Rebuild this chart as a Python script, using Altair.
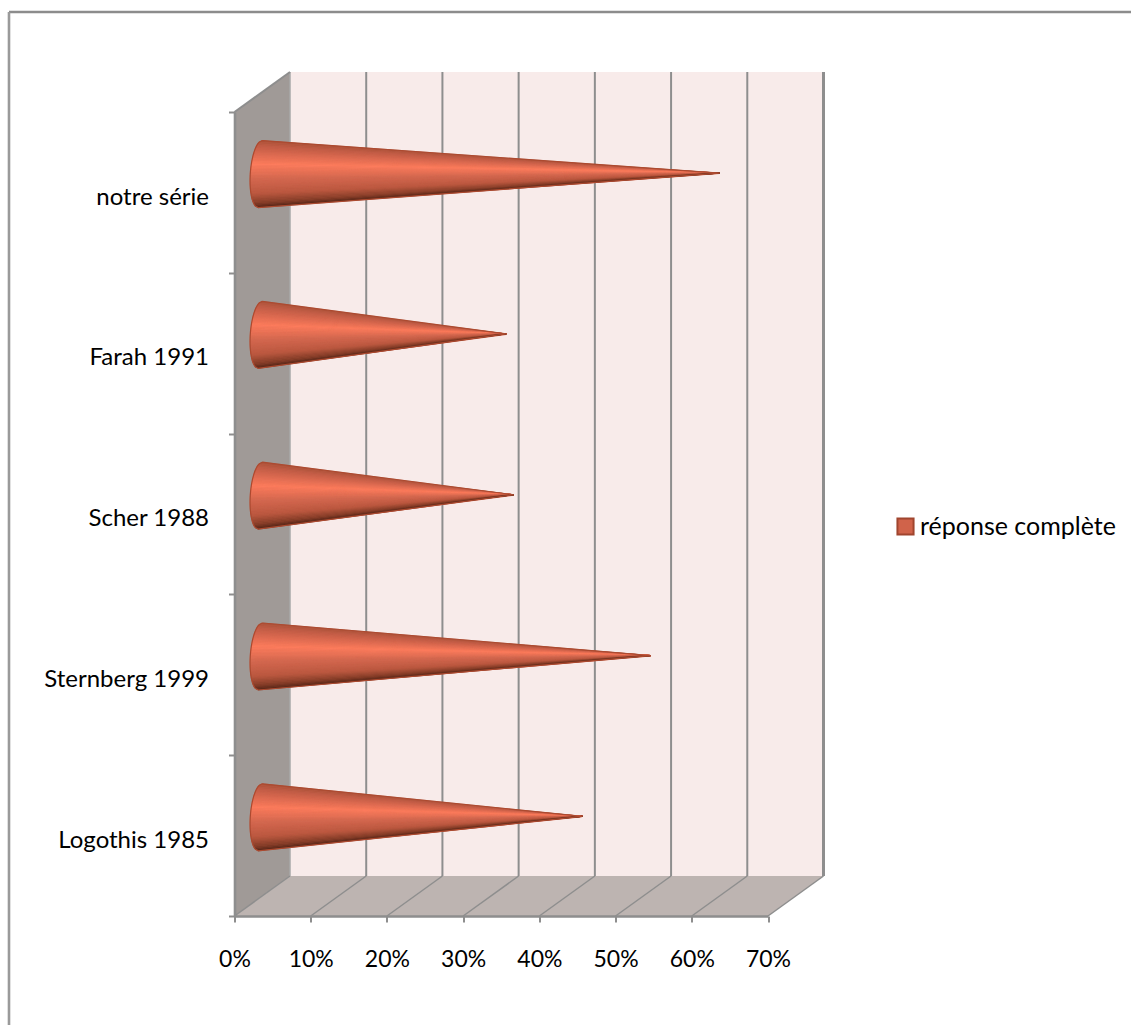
import altair as alt
import numpy as np
import pandas as pd

# Study labels and complete-response rates (%), top to bottom
studies = ["notre série", "Farah 1991", "Scher 1988", "Sternberg 1999", "Logothis 1985"]
rates = [60, 32, 33, 51, 42]
series_name = "réponse complète"
x_ticks = [0, 10, 20, 30, 40, 50, 60, 70]
band_ticks = [0, 1, 2, 3, 4, 5]

# Plot frame in pixels
PLOT_W, PLOT_H = 533.5, 804
LEFT, TOP = 234.5, 112
PX_PER_PCT = PLOT_W / 70
PX_PER_BAND = PLOT_H / 5

# Depth of the pseudo-3D box, in data units
DEPTH_X = 55.5 / PX_PER_PCT
DEPTH_Y = 40 / PX_PER_BAND
MID_X = DEPTH_X / 2
MID_Y = 18.3 / PX_PER_BAND
CONE_R = 33.5 / PX_PER_BAND

GRID = "#8e8e8e"
FONT = "Lato"

SHADE_POS = [-1.0, -0.85, -0.3, 0.15, 0.6, 0.88, 1.0]
SHADE_RGB = [(172, 82, 58), (192, 92, 70), (253, 124, 93), (212, 104, 80),
             (186, 88, 64), (130, 60, 40), (85, 38, 24)]


def shade(t):
    rgb = [np.interp(t, SHADE_POS, [c[i] for c in SHADE_RGB]) for i in range(3)]
    return "#%02x%02x%02x" % tuple(int(round(v)) for v in rgb)


def base_x(t):
    # Left rim of the cone: a slightly tilted half ellipse
    return MID_X + (-2 * t - 2 - 10 * np.sqrt(max(0.0, 1 - t * t))) / PX_PER_PCT


strips, silhouette, outline = [], [], []
N_STRIPS = 44
for k, (study, rate) in enumerate(zip(studies, rates)):
    cy = k + 0.5 - MID_Y
    tip = rate + MID_X
    edges = np.linspace(-1, 1, N_STRIPS + 1)

    # One thin sector per shade, running from the rim to the tip
    for i in range(N_STRIPS):
        a, b = edges[i], edges[i + 1]
        ax, ay = base_x(a), cy + a * CONE_R
        bx, by = base_x(b), cy + b * CONE_R
        mid = (a + b) / 2
        lo, hi = (ax, ay), (bx, by)
        if ax > bx:
            lo, hi = hi, lo
        other = (hi[0] - lo[0]) / (tip - lo[0]) if tip != lo[0] else 0
        edge_y = lo[1] + (cy - 0.006 - lo[1]) * other
        ys = sorted([hi[1], edge_y])
        for x, y0, y1 in [(lo[0], lo[1], lo[1]), (hi[0], ys[0], ys[1]), (tip, cy - 0.006, cy - 0.006)]:
            strips.append(dict(study=study, strip=i, x=x, y=y0, y2=y1, shade=shade(mid)))

    # Whole cone outline, used for the underlying fill and the rim stroke
    ts = np.linspace(-1, 1, 41)
    rim = [(base_x(t), cy + t * CONE_R) for t in ts]
    rim_top = sorted(rim[:21])
    rim_bot = sorted(rim[20:])
    xs = sorted({p[0] for p in rim} | {tip})
    top_x = [p[0] for p in rim_top] + [tip]
    top_y = [p[1] for p in rim_top] + [cy]
    bot_x = [p[0] for p in rim_bot] + [tip]
    bot_y = [p[1] for p in rim_bot] + [cy]
    for x in xs:
        silhouette.append(dict(study=study, x=x, y=float(np.interp(x, top_x, top_y)),
                               y2=float(np.interp(x, bot_x, bot_y)), series=series_name))
    path = rim + [(tip, cy - 0.006), rim[0]]
    for j, (x, y) in enumerate(path):
        outline.append(dict(study=study, o=j, x=x, y=y))

strips = pd.DataFrame(strips)
silhouette = pd.DataFrame(silhouette)
outline = pd.DataFrame(outline)

x_scale = alt.Scale(domain=[0, 70], nice=False, zero=False)
y_scale = alt.Scale(domain=[0, 5], reverse=True, nice=False, zero=False)

# Real axes on the front edges of the box; every layer shares them
labels_js = "[" + ",".join(f"'{s}'" for s in studies) + ",''][datum.value]"
x_axis = alt.Axis(
    values=x_ticks, labelExpr="datum.value + '%'", title=None, grid=False, zindex=1,
    domainColor=GRID, domainWidth=2.6, tickColor=GRID, tickWidth=2, tickSize=6,
    labelFontSize=23, labelPadding=26, labelFont=FONT, labelColor="#000000",
    labelFlush=False, labelOverlap=False)
y_axis = alt.Axis(
    values=band_ticks, labelExpr=labels_js, title=None, grid=False, zindex=1,
    domainColor=GRID, domainWidth=2.6, tickColor=GRID, tickWidth=2, tickSize=6,
    labelFontSize=24, labelPadding=20, labelFont=FONT, labelColor="#000000",
    labelOffset=85, labelBound=False, labelOverlap=False)

X = alt.X("x:Q", scale=x_scale, axis=x_axis)
Y = alt.Y("y:Q", scale=y_scale, axis=y_axis)

# Outer frame: only the top and left edges are drawn
frame_top = alt.Chart(pd.DataFrame({"a": [0]})).mark_rule(color="#8c8c8c", strokeWidth=2.4).encode(
    x=alt.value(9 - LEFT), x2=alt.value(1131 - LEFT), y=alt.value(12 - TOP))
frame_left = alt.Chart(pd.DataFrame({"a": [0]})).mark_rule(color="#9a9a9a", strokeWidth=2.6).encode(
    x=alt.value(9 - LEFT), y=alt.value(12 - TOP), y2=alt.value(1025 - TOP))

# Back wall
wall = alt.Chart(pd.DataFrame([dict(x=DEPTH_X, x2=70 + DEPTH_X, y=-DEPTH_Y, y2=5 - DEPTH_Y)])).mark_rect(
    color="#f8ebea").encode(x=X, x2="x2:Q", y=Y, y2="y2:Q")

# Side wall and floor, both sheared by the box depth
side = alt.Chart(pd.DataFrame([
    dict(x=0, y=0, y2=5), dict(x=DEPTH_X, y=-DEPTH_Y, y2=5 - DEPTH_Y)])).mark_area(
    color="#a09a97", clip=False).encode(x=X, y=Y, y2="y2:Q")
floor = alt.Chart(pd.DataFrame([
    dict(x=0, y=5, y2=5), dict(x=DEPTH_X, y=5 - DEPTH_Y, y2=5),
    dict(x=70, y=5 - DEPTH_Y, y2=5), dict(x=70 + DEPTH_X, y=5 - DEPTH_Y, y2=5 - DEPTH_Y)])).mark_area(
    color="#bdb4b1", clip=False).encode(x=X, y=Y, y2="y2:Q")

# Grid lines: upright on the back wall, diagonal across the floor
grid_df = pd.DataFrame({"x": [t + DEPTH_X for t in x_ticks], "x0": x_ticks,
                        "y": [-DEPTH_Y] * 8, "y2": [5 - DEPTH_Y] * 8, "yf": [5] * 8})
wall_grid = alt.Chart(grid_df.iloc[1:7]).mark_rule(color=GRID, strokeWidth=2).encode(
    x=X, y=Y, y2="y2:Q")
right_edge = alt.Chart(grid_df.iloc[7:]).mark_rule(color=GRID, strokeWidth=3).encode(
    x=X, y=Y, y2="y2:Q")
left_edge = alt.Chart(grid_df.iloc[:1]).mark_rule(color="#a8a8a8", strokeWidth=1.5).encode(
    x=X, y=Y, y2="y2:Q")
floor_grid = alt.Chart(grid_df).mark_rule(color=GRID, strokeWidth=1.5).encode(
    x=alt.X("x0:Q", scale=x_scale, axis=x_axis), x2="x:Q",
    y=alt.Y("yf:Q", scale=y_scale, axis=y_axis), y2="y2:Q")
top_edge = alt.Chart(pd.DataFrame([dict(x=0, x2=DEPTH_X, y=0, y2=-DEPTH_Y)])).mark_rule(
    color=GRID, strokeWidth=2).encode(x=X, x2="x2:Q", y=Y, y2="y2:Q")

# Cones: flat base fill carrying the legend, shaded sectors, then the outline
cone_base = alt.Chart(silhouette).mark_area(clip=False).encode(
    x=X, y=Y, y2="y2:Q", detail="study:N",
    fill=alt.Fill("series:N", scale=alt.Scale(domain=[series_name], range=["#d0634a"]),
                  legend=alt.Legend(
                      title=None, orient="none", legendX=893 - LEFT, legendY=514 - TOP,
                      symbolType="square", symbolSize=260, symbolStrokeColor="#a0452e",
                      symbolStrokeWidth=2, symbolOpacity=1, labelFont=FONT, labelFontSize=25,
                      labelColor="#000000", labelLimit=260, labelOffset=2, columnPadding=0)))
cone_strips = alt.Chart(strips).mark_area(clip=False, strokeWidth=0.5).encode(
    x=X, y=Y, y2="y2:Q",
    detail=["study:N", "strip:N"],
    fill=alt.Fill("shade:N", scale=None, legend=None),
    stroke=alt.Stroke("shade:N", scale=None, legend=None))
cone_line = alt.Chart(outline).mark_line(color="#ac4a30", strokeWidth=1.2, clip=False).encode(
    x=X, y=Y, order="o:Q", detail="study:N")

chart = alt.layer(
    frame_top, frame_left, wall, side, floor, left_edge, wall_grid, right_edge, floor_grid, top_edge,
    cone_base, cone_strips, cone_line,
).resolve_scale(fill="independent", stroke="independent").properties(
    width=PLOT_W, height=PLOT_H, autosize="none",
    padding={"left": LEFT, "top": TOP, "right": 1131 - LEFT - PLOT_W, "bottom": 1025 - TOP - PLOT_H},
    background="#ffffff",
).configure_view(stroke=None)

chart.save("out.html", embed_options={"renderer": "svg", "actions": False})
